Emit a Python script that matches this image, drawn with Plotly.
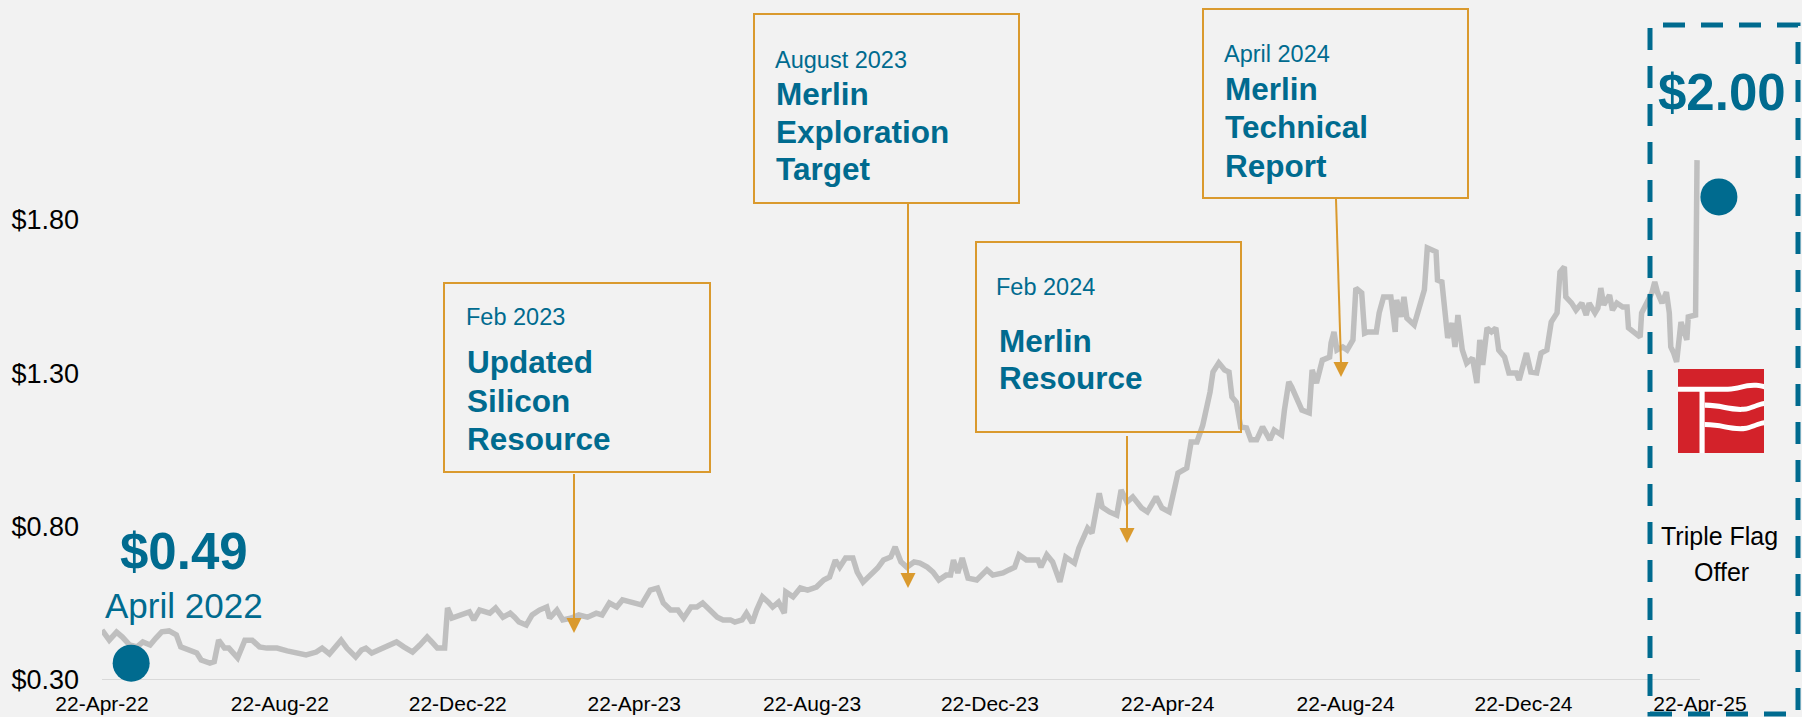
import base64
import plotly.graph_objects as go

# ---------------- data ----------------
dates = [
    "2022-04-22", "2022-04-27", "2022-05-02", "2022-05-06", "2022-05-11", "2022-05-16", "2022-05-20",
    "2022-05-25", "2022-05-29", "2022-06-02", "2022-06-07", "2022-06-12", "2022-06-15", "2022-06-21",
    "2022-06-26", "2022-06-29", "2022-07-05", "2022-07-08", "2022-07-11", "2022-07-15", "2022-07-18",
    "2022-07-24", "2022-07-29", "2022-08-03", "2022-08-08", "2022-08-13", "2022-08-20", "2022-08-27",
    "2022-09-02", "2022-09-09", "2022-09-16", "2022-09-20", "2022-09-25", "2022-09-28", "2022-10-03",
    "2022-10-07", "2022-10-13", "2022-10-17", "2022-10-20", "2022-10-24", "2022-10-29", "2022-11-03",
    "2022-11-10", "2022-11-15", "2022-11-21", "2022-11-26", "2022-12-01", "2022-12-05", "2022-12-08",
    "2022-12-13", "2022-12-15", "2022-12-18", "2022-12-23", "2022-12-30", "2023-01-02", "2023-01-06",
    "2023-01-13", "2023-01-17", "2023-01-22", "2023-01-27", "2023-01-30", "2023-02-02", "2023-02-07",
    "2023-02-11", "2023-02-16", "2023-02-21", "2023-02-23", "2023-02-28", "2023-03-04", "2023-03-10",
    "2023-03-15", "2023-03-21", "2023-03-27", "2023-03-31", "2023-04-05", "2023-04-10", "2023-04-14",
    "2023-04-24", "2023-04-27", "2023-05-03", "2023-05-08", "2023-05-12", "2023-05-17", "2023-05-22",
    "2023-05-26", "2023-05-31", "2023-06-04", "2023-06-08", "2023-06-13", "2023-06-18", "2023-06-22",
    "2023-06-27", "2023-06-30", "2023-07-05", "2023-07-08", "2023-07-12", "2023-07-15", "2023-07-19",
    "2023-07-23", "2023-07-26", "2023-07-30", "2023-08-03", "2023-08-04", "2023-08-09", "2023-08-14",
    "2023-08-19", "2023-08-25", "2023-08-30", "2023-09-03", "2023-09-07", "2023-09-10", "2023-09-14",
    "2023-09-19", "2023-09-22", "2023-09-26", "2023-10-01", "2023-10-06", "2023-10-10", "2023-10-15",
    "2023-10-18", "2023-10-22", "2023-10-26", "2023-10-31", "2023-11-04", "2023-11-09", "2023-11-13",
    "2023-11-17", "2023-11-22", "2023-11-25", "2023-11-27", "2023-11-30", "2023-12-03", "2023-12-07",
    "2023-12-13", "2023-12-15", "2023-12-20", "2023-12-24", "2023-12-31", "2024-01-04", "2024-01-08",
    "2024-01-11", "2024-01-16", "2024-01-24", "2024-01-26", "2024-01-30", "2024-02-03", "2024-02-08",
    "2024-02-12", "2024-02-18", "2024-02-21", "2024-02-27", "2024-03-01", "2024-03-06", "2024-03-08",
    "2024-03-13", "2024-03-18", "2024-03-21", "2024-03-25", "2024-03-29", "2024-04-04", "2024-04-08",
    "2024-04-14", "2024-04-18", "2024-04-23", "2024-04-29", "2024-05-05", "2024-05-08", "2024-05-12",
    "2024-05-16", "2024-05-21", "2024-05-23", "2024-05-27", "2024-05-31", "2024-06-03", "2024-06-05",
    "2024-06-08", "2024-06-11", "2024-06-15", "2024-06-18", "2024-06-22", "2024-06-26", "2024-07-01",
    "2024-07-04", "2024-07-09", "2024-07-11", "2024-07-14", "2024-07-16", "2024-07-20", "2024-07-23",
    "2024-07-28", "2024-07-30", "2024-08-02", "2024-08-06", "2024-08-11", "2024-08-12", "2024-08-14",
    "2024-08-16", "2024-08-20", "2024-08-23", "2024-08-27", "2024-08-29", "2024-09-02", "2024-09-04",
    "2024-09-06", "2024-09-12", "2024-09-14", "2024-09-17", "2024-09-22", "2024-09-25", "2024-09-26",
    "2024-09-29", "2024-10-01", "2024-10-03", "2024-10-08", "2024-10-15", "2024-10-17", "2024-10-20",
    "2024-10-23", "2024-10-24", "2024-10-27", "2024-10-31", "2024-11-03", "2024-11-05", "2024-11-07",
    "2024-11-10", "2024-11-13", "2024-11-17", "2024-11-20", "2024-11-22", "2024-11-24", "2024-11-27",
    "2024-11-30", "2024-12-03", "2024-12-05", "2024-12-09", "2024-12-12", "2024-12-17", "2024-12-19",
    "2024-12-24", "2024-12-27", "2024-12-31", "2025-01-03", "2025-01-07", "2025-01-10", "2025-01-14",
    "2025-01-16", "2025-01-19", "2025-01-20", "2025-01-24", "2025-01-27", "2025-01-31", "2025-02-03",
    "2025-02-05", "2025-02-09", "2025-02-11", "2025-02-13", "2025-02-15", "2025-02-19", "2025-02-21",
    "2025-02-24", "2025-02-28", "2025-03-03", "2025-03-04", "2025-03-08", "2025-03-12", "2025-03-13",
    "2025-03-17", "2025-03-20", "2025-03-22", "2025-03-24", "2025-03-27", "2025-03-30", "2025-04-01",
    "2025-04-02", "2025-04-04", "2025-04-06", "2025-04-09", "2025-04-13", "2025-04-14", "2025-04-19",
    "2025-04-20",
]
prices = [
    0.463, 0.430, 0.456, 0.440, 0.414, 0.408, 0.424,
    0.414, 0.437, 0.457, 0.460, 0.447, 0.408, 0.398,
    0.388, 0.365, 0.355, 0.360, 0.430, 0.404, 0.404,
    0.372, 0.430, 0.430, 0.408, 0.404, 0.404, 0.395,
    0.391, 0.382, 0.391, 0.404, 0.385, 0.404, 0.430,
    0.404, 0.375, 0.398, 0.404, 0.388, 0.398, 0.408,
    0.424, 0.408, 0.391, 0.414, 0.440, 0.420, 0.404,
    0.404, 0.535, 0.502, 0.512, 0.522, 0.496, 0.528,
    0.518, 0.535, 0.505, 0.518, 0.505, 0.489, 0.479,
    0.512, 0.528, 0.538, 0.502, 0.528, 0.496, 0.502,
    0.512, 0.505, 0.518, 0.512, 0.551, 0.538, 0.561,
    0.551, 0.545, 0.593, 0.600, 0.551, 0.528, 0.528,
    0.502, 0.538, 0.538, 0.551, 0.528, 0.505, 0.496,
    0.496, 0.489, 0.496, 0.518, 0.486, 0.528, 0.571,
    0.554, 0.538, 0.554, 0.518, 0.587, 0.571, 0.600,
    0.593, 0.603, 0.626, 0.636, 0.691, 0.668, 0.698,
    0.698, 0.652, 0.619, 0.642, 0.665, 0.691, 0.701,
    0.734, 0.685, 0.668, 0.685, 0.681, 0.668, 0.652,
    0.626, 0.642, 0.642, 0.691, 0.649, 0.698, 0.632,
    0.626, 0.636, 0.659, 0.642, 0.649, 0.659, 0.668,
    0.708, 0.691, 0.691, 0.668, 0.708, 0.685, 0.620,
    0.701, 0.681, 0.730, 0.795, 0.779, 0.909, 0.864,
    0.848, 0.838, 0.920, 0.880, 0.897, 0.861, 0.848,
    0.897, 0.861, 0.848, 0.975, 0.991, 1.076, 1.076,
    1.131, 1.239, 1.304, 1.334, 1.311, 1.304, 1.223,
    1.206, 1.125, 1.122, 1.083, 1.083, 1.125, 1.083,
    1.115, 1.099, 1.180, 1.272, 1.255, 1.213, 1.180,
    1.171, 1.311, 1.268, 1.343, 1.353, 1.399, 1.435,
    1.376, 1.386, 1.376, 1.409, 1.578, 1.562, 1.431,
    1.435, 1.435, 1.497, 1.549, 1.549, 1.435, 1.539,
    1.484, 1.549, 1.480, 1.458, 1.572, 1.709, 1.702,
    1.696, 1.604, 1.598, 1.415, 1.464, 1.386, 1.490,
    1.376, 1.333, 1.350, 1.268, 1.409, 1.327, 1.448,
    1.435, 1.448, 1.376, 1.353, 1.301, 1.301, 1.278,
    1.366, 1.304, 1.301, 1.366, 1.376, 1.467, 1.497,
    1.630, 1.647, 1.549, 1.529, 1.506, 1.529, 1.490,
    1.529, 1.497, 1.513, 1.578, 1.523, 1.555, 1.506,
    1.529, 1.516, 1.516, 1.448, 1.431, 1.418, 1.497,
    1.539, 1.562, 1.598, 1.562, 1.529, 1.565, 1.497,
    1.386, 1.366, 1.337, 1.467, 1.409, 1.484, 1.490,
    1.995,
]

tick_dates = ["2022-04-22", "2022-08-22", "2022-12-22", "2023-04-22", "2023-08-22",
              "2023-12-22", "2024-04-22", "2024-08-22", "2024-12-22", "2025-04-22"]
tick_labels = ["22-Apr-22", "22-Aug-22", "22-Dec-22", "22-Apr-23", "22-Aug-23",
               "22-Dec-23", "22-Apr-24", "22-Aug-24", "22-Dec-24", "22-Apr-25"]
y_ticks = [0.30, 0.80, 1.30, 1.80]
y_tick_labels = ["$0.30", "$0.80", "$1.30", "$1.80"]

marker_dates = ["2022-05-12", "2025-05-05"]
marker_prices = [0.355, 1.875]

# ---------------- style / layout ----------------
W, H = 1802, 717
L, R, T, B = 102, 0, 0, 37
PW, PH = W - L - R, H - T - B
PX_PER_DOLLAR = 306.7
X_RANGE = ["2022-04-22", "2025-07-01"]   # axis runs past the last tick to make room for the offer box

BG = "#F2F2F2"
BLUE = "#006B8F"
ORANGE = "#DA9A2E"
GREY = "#BFBFBF"
FONT = "Arial, Liberation Sans, sans-serif"


def px(x):
    return (x - L) / PW


def py(y):
    return (H - B - y) / PH


fig = go.Figure()
fig.add_trace(go.Scatter(x=dates, y=prices, mode="lines",
                         line=dict(color=GREY, width=5.5), hoverinfo="skip"))
fig.add_trace(go.Scatter(x=marker_dates, y=marker_prices, mode="markers",
                         marker=dict(size=37, color=BLUE), cliponaxis=False, hoverinfo="skip"))

annotations = []


def add_text(text, x, baseline, size, bold=False, color=BLUE, anchor="left"):
    annotations.append(dict(
        text=text, x=px(x), y=py(baseline - 0.35 * size), xref="paper", yref="paper",
        xanchor=anchor, yanchor="middle", showarrow=False, borderpad=0,
        font=dict(family=FONT, size=size, color=color, weight="bold" if bold else "normal")))


DATE_FS, BOLD_FS = 23.5, 31.5
# Box 1
add_text("Feb 2023", 465, 325, DATE_FS)
add_text("Updated", 466, 373, BOLD_FS, True)
add_text("Silicon", 466, 412, BOLD_FS, True)
add_text("Resource", 466, 450, BOLD_FS, True)
# Box 2
add_text("August 2023", 774, 68, DATE_FS)
add_text("Merlin", 775, 105, BOLD_FS, True)
add_text("Exploration", 775, 143, BOLD_FS, True)
add_text("Target", 775, 180, BOLD_FS, True)
# Box 3
add_text("Feb 2024", 995, 295, DATE_FS)
add_text("Merlin", 998, 352, BOLD_FS, True)
add_text("Resource", 998, 389, BOLD_FS, True)
# Box 4
add_text("April 2024", 1223, 62, DATE_FS)
add_text("Merlin", 1224, 100, BOLD_FS, True)
add_text("Technical", 1224, 138, BOLD_FS, True)
add_text("Report", 1224, 177, BOLD_FS, True)
# Big labels
add_text("$0.49", 184, 569, 51, True, anchor="center")
add_text("April 2022", 184, 618, 35, anchor="center")
add_text("$2.00", 1722, 110, 51, True, anchor="center")
add_text("Triple Flag", 1719, 545, 25, color="#000000", anchor="center")
add_text("Offer", 1721, 581, 25, color="#000000", anchor="center")

shapes = []
# x-axis baseline (only under the dated part of the axis)
shapes.append(dict(type="line", xref="x", yref="y", x0=tick_dates[0], x1=tick_dates[-1],
                   y0=y_ticks[0], y1=y_ticks[0], line=dict(color="#D9D9D9", width=2), layer="below"))

# annotation boxes
for (x0, y0, x1, y1) in [(444, 283, 710, 472), (754, 14, 1019, 203),
                         (976, 242, 1241, 432), (1203, 9, 1468, 198)]:
    shapes.append(dict(type="rect", xref="paper", yref="paper",
                       x0=px(x0), x1=px(x1), y0=py(y1), y1=py(y0),
                       line=dict(color=ORANGE, width=2), layer="above"))

# arrows (tail -> tip)
for (xt, yt, xh, yh) in [(574, 474, 574, 633), (908, 203, 908, 588),
                         (1127, 436, 1127, 543), (1336, 199, 1341, 377)]:
    hl, hw = 15, 7.5
    shapes.append(dict(type="line", xref="paper", yref="paper",
                       x0=px(xt), y0=py(yt), x1=px(xh), y1=py(yh - hl + 1),
                       line=dict(color=ORANGE, width=2), layer="above"))
    path = (f"M{px(xh)},{py(yh)} L{px(xh - hw)},{py(yh - hl)} "
            f"L{px(xh + hw)},{py(yh - hl)} Z")
    shapes.append(dict(type="path", xref="paper", yref="paper", path=path,
                       fillcolor=ORANGE, line=dict(width=0), layer="above"))

# dashed highlight box
shapes.append(dict(type="rect", xref="paper", yref="paper",
                   x0=px(1650), x1=px(1798), y0=py(714), y1=py(25),
                   line=dict(color=BLUE, width=5, dash="22px,16px"), layer="above"))

# Triple Flag logo (inline svg)
svg = """<svg xmlns='http://www.w3.org/2000/svg' viewBox='0 0 100 100' width='100' height='100'>
<rect width='100' height='100' fill='#D3222A'/>
<path d='M0,21 L58,21 C72,21 82,13 100,18 L100,24 C82,19 72,27 58,27 L31,27 L31,100 L25,100 L25,27 L0,27 Z' fill='#FFFFFF'/>
<path d='M31,40 C50,40 62,46 76,45 C86,44 92,39 100,38 L100,44 C92,45 86,50 76,51 C62,52 50,46 31,46 Z' fill='#FFFFFF'/>
<path d='M31,63 C50,63 62,69 76,68 C86,67 92,62 100,61 L100,67 C92,68 86,73 76,74 C62,75 50,69 31,69 Z' fill='#FFFFFF'/>
</svg>"""
logo_src = "data:image/svg+xml;base64," + base64.b64encode(svg.encode()).decode()

fig.update_layout(
    width=W, height=H,
    margin=dict(l=L, r=R, t=T, b=B, pad=0),
    paper_bgcolor=BG, plot_bgcolor=BG,
    showlegend=False, hovermode=False,
    template="none",
    annotations=annotations,
    shapes=shapes,
    images=[dict(source=logo_src, xref="paper", yref="paper",
                 x=px(1678), y=py(369), sizex=86 / PW, sizey=84 / PH,
                 xanchor="left", yanchor="top", sizing="stretch", layer="above")],
    xaxis=dict(type="date", range=X_RANGE,
               tickvals=tick_dates, ticktext=tick_labels,
               showgrid=False, zeroline=False, showline=False, ticks="",
               ticklabelstandoff=9, automargin=False,
               tickfont=dict(family=FONT, size=21, color="#000000")),
    yaxis=dict(range=[0.30, 0.30 + PH / PX_PER_DOLLAR],
               tickvals=y_ticks, ticktext=y_tick_labels,
               showgrid=False, zeroline=False, showline=False, ticks="",
               ticklabelstandoff=22, automargin=False,
               tickfont=dict(family=FONT, size=27, color="#000000")),
)

fig.write_html("out.html", config={"displayModeBar": False},
               post_script="document.body.style.margin='0px';")
